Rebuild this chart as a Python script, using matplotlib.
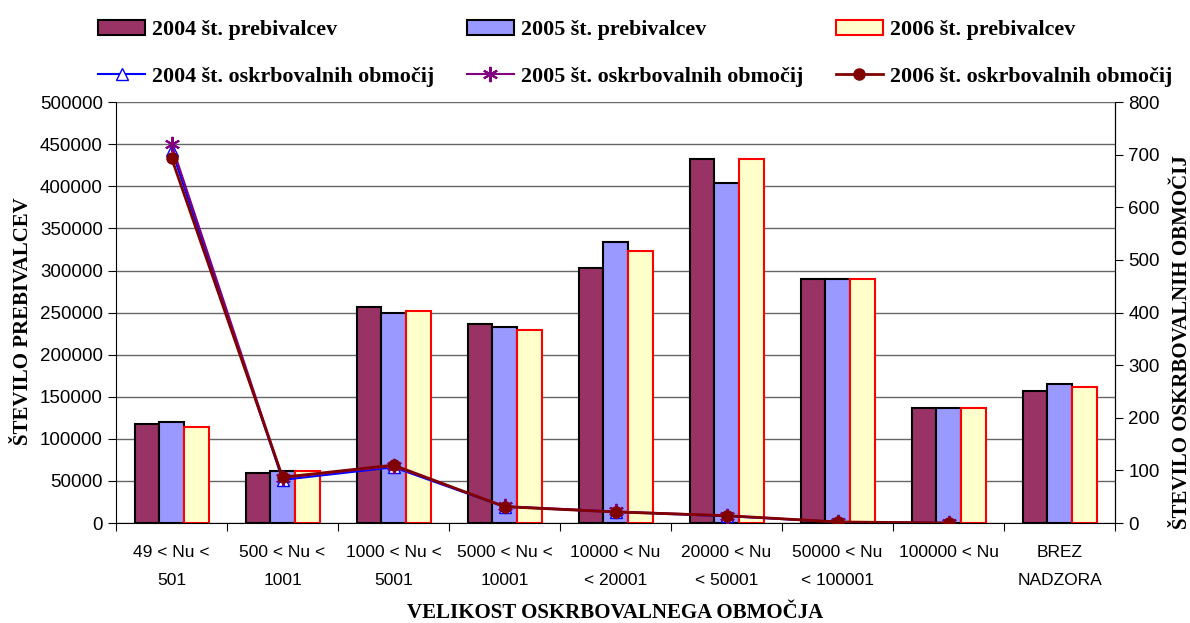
import numpy as np
import matplotlib
matplotlib.use('Agg')
import matplotlib.pyplot as plt

categories = ['49 < Nu <\n501', '500 < Nu <\n1001', '1000 < Nu <\n5001', '5000 < Nu <\n10001',
              '10000 < Nu\n< 20001', '20000 < Nu\n< 50001', '50000 < Nu\n< 100001',
              '100000 < Nu\n', 'BREZ\nNADZORA']

preb_2004 = [118000, 60000, 257000, 236000, 303000, 432000, 290000, 137000, 157000]
preb_2005 = [120000, 62000, 249000, 233000, 334000, 404000, 290000, 137000, 165000]
preb_2006 = [114000, 62000, 252000, 229000, 323000, 432000, 290000, 137000, 161000]

obm_2004 = [710, 82, 106, 31, 21, 13, 2, 0]
obm_2005 = [720, 86, 108, 32, 22, 14, 2, 0]
obm_2006 = [694, 87, 110, 31, 21, 14, 2, 0]

serif = 'Liberation Serif'
sans = 'Liberation Sans'

fig = plt.figure(figsize=(11.9, 6.23), dpi=100)
ax = fig.add_axes([0.0975, 0.1605, 0.8395, 0.6755])
ax2 = ax.twinx()

x = np.arange(len(categories))
w = 1 / 4.5
b1 = ax.bar(x - w, preb_2004, w, color='#993366', edgecolor='black', linewidth=1.5, zorder=2)
b2 = ax.bar(x, preb_2005, w, color='#9999FF', edgecolor='black', linewidth=1.5, zorder=2)
b3 = ax.bar(x + w, preb_2006, w, color='#FFFFCC', edgecolor='red', linewidth=1.5, zorder=2)

xl = x[:len(obm_2004)]
l1, = ax2.plot(xl, obm_2004, color='blue', marker='^', markerfacecolor='white',
               markeredgecolor='blue', markersize=8, linewidth=1.5)
l2, = ax2.plot(xl, obm_2005, color='#800080', marker=(6, 2, 0), markersize=11,
               markeredgewidth=1.5, linewidth=1.5)
l3, = ax2.plot(xl, obm_2006, color='#800000', marker='o', markersize=8, linewidth=2)

ax.set_xlim(-0.5, len(categories) - 0.5)
ax.set_ylim(0, 500000)
ax.set_yticks(np.arange(0, 500001, 50000))
ax2.set_ylim(0, 800)
ax2.set_yticks(np.arange(0, 801, 100))
ax.yaxis.grid(True, color='#666666', linewidth=1, zorder=0)
ax.set_axisbelow(True)

ax.set_xticks(np.arange(-0.5, len(categories), 1))
ax.set_xticklabels([])
ax.set_xticks(x, minor=True)
ax.set_xticklabels(categories, minor=True, fontsize=12.5, family=sans, linespacing=2.1)
ax.tick_params(axis='x', which='minor', length=0, pad=16)
ax.tick_params(axis='x', which='major', length=6, direction='out')
ax.tick_params(axis='y', length=6, labelsize=13.5)
ax2.tick_params(axis='y', length=6, labelsize=13.5)
for t in ax.get_yticklabels() + ax2.get_yticklabels():
    t.set_family(sans)

for s in ['top']:
    ax.spines[s].set_visible(False)
    ax2.spines[s].set_visible(False)
ax2.spines['left'].set_visible(False)
ax2.spines['bottom'].set_visible(False)

ax.set_ylabel('ŠTEVILO PREBIVALCEV', family=serif, fontweight='bold', fontsize=15)
ax.yaxis.set_label_coords(-0.083, 0.48)
ax2.set_ylabel('ŠTEVILO OSKRBOVALNIH OBMOČIJ', family=serif, fontweight='bold', fontsize=15)
ax2.yaxis.set_label_coords(1.057, 0.43)
ax.set_xlabel('VELIKOST OSKRBOVALNEGA OBMOČJA', family=serif, fontweight='bold', fontsize=15)
ax.xaxis.set_label_coords(0.5, -0.19)

handles = [b1, l1, b2, l2, b3, l3]
labels = ['2004 št. prebivalcev', '2004 št. oskrbovalnih območij',
          '2005 št. prebivalcev', '2005 št. oskrbovalnih območij',
          '2006 št. prebivalcev', '2006 št. oskrbovalnih območij']
fig.legend(handles, labels, ncol=3, loc='upper left', bbox_to_anchor=(0.0824, 0.968),
           frameon=False, prop={'family': serif, 'weight': 'bold', 'size': 15.8},
           borderpad=0, borderaxespad=0,
           handlelength=2.15, handletextpad=0.3, columnspacing=1.5, labelspacing=1.2)

fig.savefig('out.png', dpi=100)
